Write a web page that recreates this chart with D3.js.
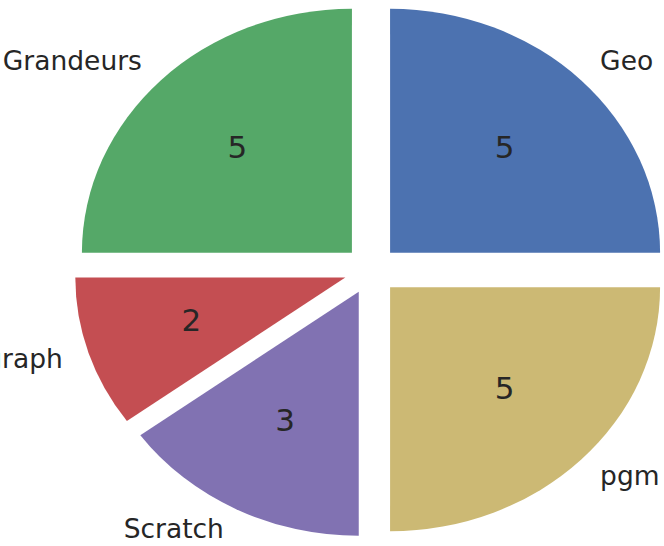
<!DOCTYPE html>
<html>
<head>
<meta charset="utf-8">
<script src="https://cdn.jsdelivr.net/npm/d3@7"></script>
<style>
html,body{margin:0;padding:0;background:#fff;}
svg{display:block;}
text{font-family:"DejaVu Sans",sans-serif;fill:#262626;}
</style>
</head>
<body>
<svg id="chart" width="664" height="546"></svg>
<script>
const categories = ["Geo", "Grandeurs", "graph", "Scratch", "pgm"];
const values = [5, 5, 2, 3, 5];
const colors = ["#4C72B0", "#55A868", "#C44E52", "#8172B2", "#CCB974"];
const explode = [0.1, 0.1, 0.1, 0.1, 0.1];

const W = 664, H = 546;
const cx = 371, cy = 270, rx = 270, ry = 244;
const labelDist = 1.1, pctDist = 0.6;

const svg = d3.select("#chart");
const pie = d3.pie().sort(null).value(d => d.v)
  .startAngle(Math.PI / 2).endAngle(Math.PI / 2 - 2 * Math.PI);
const data = categories.map((c, i) => ({c, v: values[i], col: colors[i], ex: explode[i]}));
const arcs = pie(data);
const arc = d3.arc().innerRadius(0).outerRadius(1);

const sx = d3.scaleLinear().domain([-1, 1]).range([cx - rx, cx + rx]);
const sy = d3.scaleLinear().domain([-1, 1]).range([cy + ry, cy - ry]);

arcs.forEach(a => {
  const mid = (a.startAngle + a.endAngle) / 2;
  const ux = Math.sin(mid), uy = Math.cos(mid); // math coords (y up)
  const ox = a.data.ex * ux, oy = a.data.ex * uy;
  const px = sx(ox), py = sy(oy);
  svg.append("path")
    .attr("d", arc(a))
    .attr("fill", a.data.col)
    .attr("transform", `translate(${px},${py}) scale(${rx},${ry})`);
  // category label
  const lx = sx(ox + labelDist * ux), ly = sy(oy + labelDist * uy);
  svg.append("text")
    .attr("x", lx).attr("y", ly - 2)
    .attr("text-anchor", ux >= 0 ? "start" : "end")
    .attr("dominant-baseline", "central")
    .attr("font-size", 26.5)
    .text(a.data.c);
  // value label
  const vx = sx(ox + pctDist * ux), vy = sy(oy + pctDist * uy);
  svg.append("text")
    .attr("x", vx).attr("y", vy - 2.5)
    .attr("text-anchor", "middle")
    .attr("dominant-baseline", "central")
    .attr("font-size", 31)
    .text(a.data.v);
});
</script>
</body>
</html>
